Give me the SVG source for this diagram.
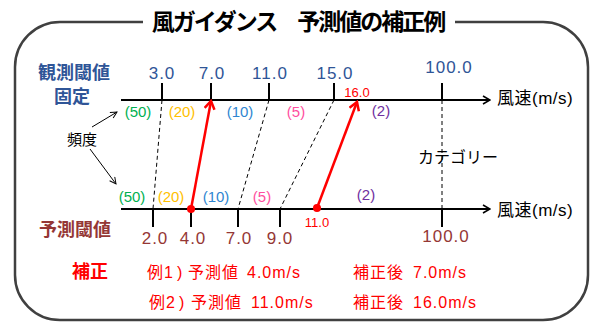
<svg xmlns="http://www.w3.org/2000/svg" width="592" height="323" viewBox="0 0 592 323">
<style>
text{font-family:"Liberation Sans","Noto Sans CJK JP",sans-serif}
.num{font-size:17px;letter-spacing:1px;text-anchor:middle}
.blue{fill:#2F5597}
.brown{fill:#953735}
.red{fill:#FF0000}
.freq{font-size:15px;text-anchor:middle}
.lab{font-size:18px;font-weight:bold;text-anchor:middle}
.axis{stroke:#000;stroke-width:2;fill:none}
.tick{stroke:#000;stroke-width:2}
.dash{stroke:#000;stroke-width:1;stroke-dasharray:4 3;fill:none}
.rarr{stroke:#FF0000;stroke-width:2.5;fill:none}
.thin{stroke:#000;stroke-width:1;fill:none}
.corr{font-size:16px;fill:#FF0000;letter-spacing:1px}
.unit{font-size:17px;letter-spacing:0.5px;fill:#000}
</style>
<defs>
<marker id="ah" viewBox="0 0 10 10" refX="9" refY="5" markerWidth="10" markerHeight="10" markerUnits="userSpaceOnUse" orient="auto">
<path d="M2,1 L9,5 L2,9" fill="none" stroke="#000" stroke-width="1.6"/>
</marker>
<marker id="ahr" viewBox="0 0 12 12" refX="10" refY="6" markerWidth="12" markerHeight="12" markerUnits="userSpaceOnUse" orient="auto">
<path d="M2,1 L10,6 L2,11" fill="none" stroke="#FF0000" stroke-width="2.5"/>
</marker>
<marker id="aht" viewBox="0 0 10 10" refX="9" refY="5" markerWidth="8" markerHeight="8" markerUnits="userSpaceOnUse" orient="auto">
<path d="M1,1 L9,5 L1,9" fill="none" stroke="#000" stroke-width="1.2"/>
</marker>
</defs>
<g id="frame">
<path d="M143,22 L60,22 A45,45 0 0 0 15,67 L15,275 A45,45 0 0 0 60,320 L543,320 A45,45 0 0 0 588,275 L588,67 A45,45 0 0 0 543,22 L455,22" fill="none" stroke="#404040" stroke-width="2.5"/>
<text x="298" y="30" font-size="23" font-weight="bold" letter-spacing="-2" text-anchor="middle" fill="#000">風ガイダンス　予測値の補正例</text>
</g>
<g id="connectors">
<line class="axis" x1="121" y1="100" x2="490" y2="100" marker-end="url(#ah)"/>
<line class="axis" x1="121" y1="209" x2="490" y2="209" marker-end="url(#ah)"/>
<line class="tick" x1="162" y1="83" x2="162" y2="100"/>
<line class="tick" x1="211" y1="83" x2="211" y2="100"/>
<line class="tick" x1="269" y1="83" x2="269" y2="100"/>
<line class="tick" x1="334" y1="83" x2="334" y2="100"/>
<line class="tick" x1="442" y1="83" x2="442" y2="100"/>
<line class="tick" x1="153" y1="209" x2="153" y2="227"/>
<line class="tick" x1="191" y1="209" x2="191" y2="227"/>
<line class="tick" x1="238" y1="209" x2="238" y2="227"/>
<line class="tick" x1="280" y1="209" x2="280" y2="227"/>
<line class="tick" x1="442" y1="209" x2="442" y2="227"/>
<line class="dash" x1="162" y1="100" x2="153" y2="209"/>
<line class="dash" x1="269" y1="100" x2="238" y2="209"/>
<line class="dash" x1="334" y1="100" x2="280" y2="209"/>
<line class="dash" x1="442" y1="100" x2="442" y2="209"/>
<line class="rarr" x1="191" y1="209" x2="211" y2="101" marker-end="url(#ahr)"/>
<line class="rarr" x1="317" y1="208" x2="357" y2="102" marker-end="url(#ahr)"/>
<circle cx="191" cy="209" r="4" fill="#FF0000"/>
<circle cx="317" cy="208" r="4" fill="#FF0000"/>
<line class="thin" x1="92" y1="127" x2="117" y2="112" marker-end="url(#aht)"/>
<line class="thin" x1="90" y1="149" x2="116" y2="184" marker-end="url(#aht)"/>
</g>
<g id="obs-axis">
<text class="lab blue" x="74" y="79">観測閾値</text>
<text class="lab blue" x="72" y="103">固定</text>
<text class="num blue" x="162" y="79">3.0</text>
<text class="num blue" x="212" y="79">7.0</text>
<text class="num blue" x="270" y="79">11.0</text>
<text class="num blue" x="335" y="79">15.0</text>
<text class="num blue" x="449" y="73">100.0</text>
<text x="357" y="96.5" font-size="13" text-anchor="middle" class="red">16.0</text>
<text class="unit" x="497" y="104">風速(m/s)</text>
</g>
<g id="freq-top">
<text class="freq" x="138" y="117" fill="#00B050">(50)</text>
<text class="freq" x="182" y="117" fill="#FFC000">(20)</text>
<text class="freq" x="240" y="117" fill="#2E86D1">(10)</text>
<text class="freq" x="296" y="117" fill="#FF4FA0">(5)</text>
<text class="freq" x="381" y="116" fill="#7030A0">(2)</text>
</g>
<g id="freq-label">
<text x="82" y="145" font-size="15" text-anchor="middle" fill="#000">頻度</text>
<text x="418" y="163" font-size="16" fill="#000">カテゴリー</text>
</g>
<g id="freq-bottom">
<text class="freq" x="132" y="202" fill="#00B050">(50)</text>
<text class="freq" x="171" y="202" fill="#FFC000">(20)</text>
<text class="freq" x="216" y="202" fill="#2E86D1">(10)</text>
<text class="freq" x="262" y="202" fill="#FF4FA0">(5)</text>
<text class="freq" x="366" y="200" fill="#7030A0">(2)</text>
</g>
<g id="fcst-axis">
<text class="lab brown" x="75" y="236">予測閾値</text>
<text class="num brown" x="155" y="244">2.0</text>
<text class="num brown" x="193" y="244">4.0</text>
<text class="num brown" x="239" y="244">7.0</text>
<text class="num brown" x="280" y="244">9.0</text>
<text class="num brown" x="446" y="242">100.0</text>
<text x="317" y="227" font-size="13" text-anchor="middle" class="red">11.0</text>
<text class="unit" x="497" y="216">風速(m/s)</text>
</g>
<g id="correction">
<text class="lab red" x="90" y="278" font-size="17">補正</text>
<text class="corr" y="278"><tspan x="147">例1</tspan><tspan x="177">)</tspan><tspan x="188">予測値</tspan><tspan x="247">4.0m/s</tspan></text>
<text class="corr" y="278"><tspan x="353">補正後</tspan><tspan x="413">7.0m/s</tspan></text>
<text class="corr" y="308"><tspan x="149">例2</tspan><tspan x="179">)</tspan><tspan x="191">予測値</tspan><tspan x="251">11.0m/s</tspan></text>
<text class="corr" y="308"><tspan x="353">補正後</tspan><tspan x="413">16.0m/s</tspan></text>
</g>
</svg>
